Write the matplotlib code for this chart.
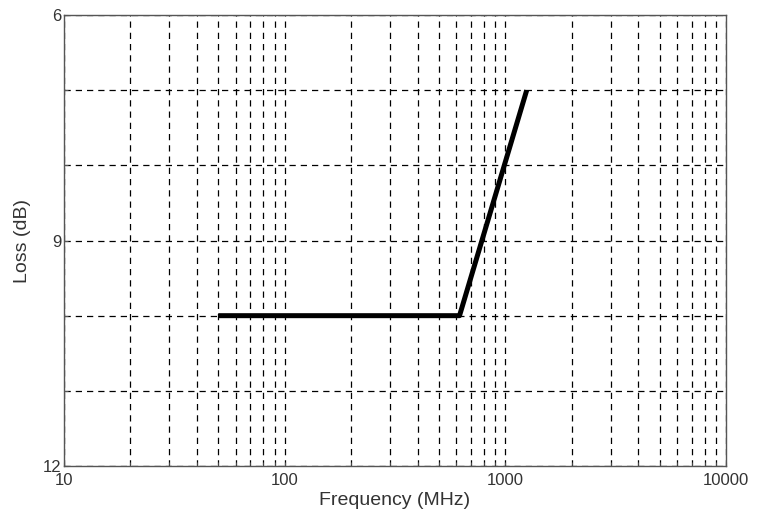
import numpy as np
import matplotlib as mpl
import matplotlib.pyplot as plt
from matplotlib.ticker import FixedLocator, NullFormatter

mpl.rcParams['font.family'] = ['Liberation Sans', 'DejaVu Sans']

# Données
freq_mhz = [50, 620, 1250]
loss_db = [10, 10, 7]

x_major = [10, 100, 1000, 10000]
x_labels = ['10', '100', '1000', '10000']
y_ticks = [6, 7, 8, 9, 10, 11, 12]
y_labels = ['6', '', '', '9', '', '', '12']

fig = plt.figure(figsize=(7.58, 5.16), dpi=100)
ax = fig.add_axes([0.0844, 0.0969, 0.8734, 0.874])

ax.plot(freq_mhz, loss_db, color='black', lw=3.6, solid_capstyle='butt', zorder=3)

ax.set_xscale('log')
ax.set_xlim(10, 10000)
ax.set_ylim(12, 6)

ax.xaxis.set_major_locator(FixedLocator(x_major))
ax.set_xticklabels(x_labels)
ax.xaxis.set_minor_locator(FixedLocator([m * d for d in (10, 100, 1000) for m in range(2, 10)]))
ax.xaxis.set_minor_formatter(NullFormatter())
ax.set_yticks(y_ticks)
ax.set_yticklabels(y_labels)

grid_style = dict(color='black', linestyle=(0, (5, 4)), linewidth=0.9)
ax.grid(True, which='major', **grid_style)
ax.grid(True, which='minor', axis='x', **grid_style)

ax.tick_params(which='both', direction='in', length=3, color='#555555',
               labelsize=12, labelcolor='#333333')
ax.tick_params(axis='x', pad=5)
ax.tick_params(axis='y', pad=2)
for s in ax.spines.values():
    s.set_color('#555555')
    s.set_linewidth(1.0)

ax.set_xlabel('Frequency (MHz)', fontsize=14, color='#333333', labelpad=3)
ax.set_ylabel('Loss (dB)', fontsize=14, color='#333333', labelpad=8)

plt.savefig('out.png', dpi=100)
